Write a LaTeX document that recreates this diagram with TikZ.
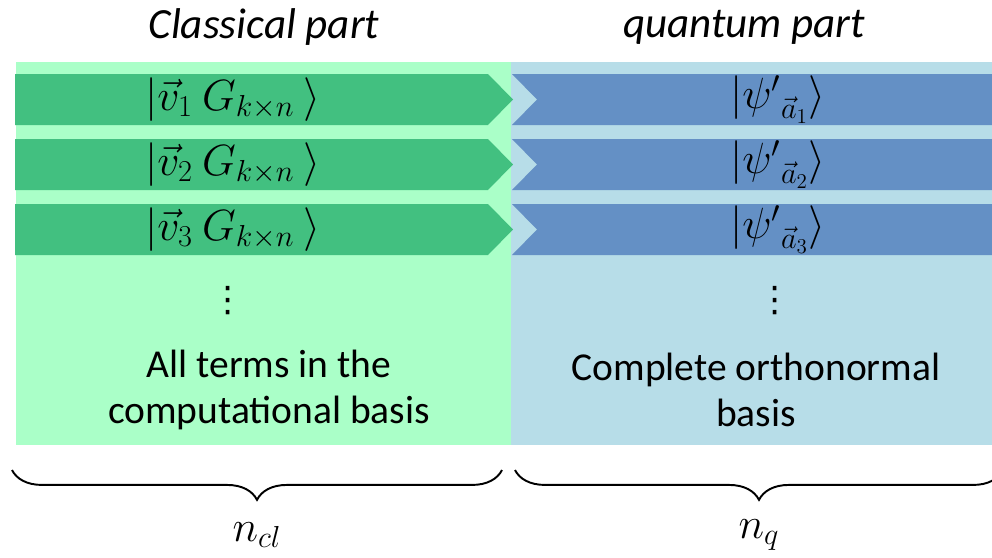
\documentclass[tikz,border=0pt]{standalone}
\usepackage{amsmath}
\usepackage{fontspec}
\setmainfont{Carlito}
\newfontfamily\dotsfont{DejaVu Sans}
\usepackage{tikz}
\usetikzlibrary{decorations.pathreplacing,positioning}
\definecolor{clgreen}{HTML}{AAFFC8}
\definecolor{rowgreen}{HTML}{42C080}
\definecolor{qublue}{HTML}{B7DDE8}
\definecolor{rowblue}{HTML}{6490C5}

\begin{document}
\begin{tikzpicture}[x=0.02cm,y=-0.02cm,
    txt/.style={font=\fontsize{22.5}{26}\selectfont,align=center},
    head/.style={font=\fontsize{24.5}{28}\selectfont\itshape},
    ket/.style={font=\fontsize{23}{27}\selectfont,inner sep=0pt},
    vdot/.style={font=\fontsize{20}{24}\dotsfont},
    partbrace/.style={decorate,decoration={brace,mirror,amplitude=17pt},line width=1.1pt}]
  \useasboundingbox (0,0) rectangle (992,558);
  \fill[clgreen] (16,62) rectangle (511,445);
  \fill[qublue] (511,62) rectangle (992,445);
  \foreach \i/\y in {1/74,2/139,3/204} {
    \fill[rowgreen] (15,\y) -- (488,\y) -- (513,\y+25.5) -- (488,\y+51) -- (15,\y+51) -- cycle;
    \fill[rowblue] (512,\y) -- (992,\y) -- (992,\y+51) -- (512,\y+51) -- (537,\y+25.5) -- cycle;
    \node[ket] (cl\i) at (233,\y+25.5) {$|\vec{v}_\i\ G_{k\times n}\ \rangle$};
    \node[ket] (qu\i) at (778,\y+25.5) {$|{\psi'}_{\vec{a}_\i}\rangle$};
  }
  \node[head] (clhead) at (264,27) {Classical part};
  \node[head] (quhead) at (744,27) {quantum part};
  \node[vdot] (cldots) at (228,301) {⋮};
  \node[vdot] (qudots) at (775,301) {⋮};
  \node[txt] (clbasis) at (269,390) {All terms in the\\computational basis};
  \node[txt] (qubasis) at (756,390) {Complete orthonormal\\basis};
  % braces under the two parts
  \coordinate (clleft) at (12,470);
  \coordinate (clright) at (502,470);
  \coordinate (quleft) at (515,470);
  \coordinate (quright) at (1003,470);
  \draw[partbrace] (clleft) -- (clright);
  \draw[partbrace] (quleft) -- (quright);
  \node[font=\fontsize{27}{30}\selectfont] (ncl) at (257,535) {$n_{cl}$};
  \node[font=\fontsize{27}{30}\selectfont] (nq) at (759,535) {$n_{q}$};
\end{tikzpicture}
\end{document}
